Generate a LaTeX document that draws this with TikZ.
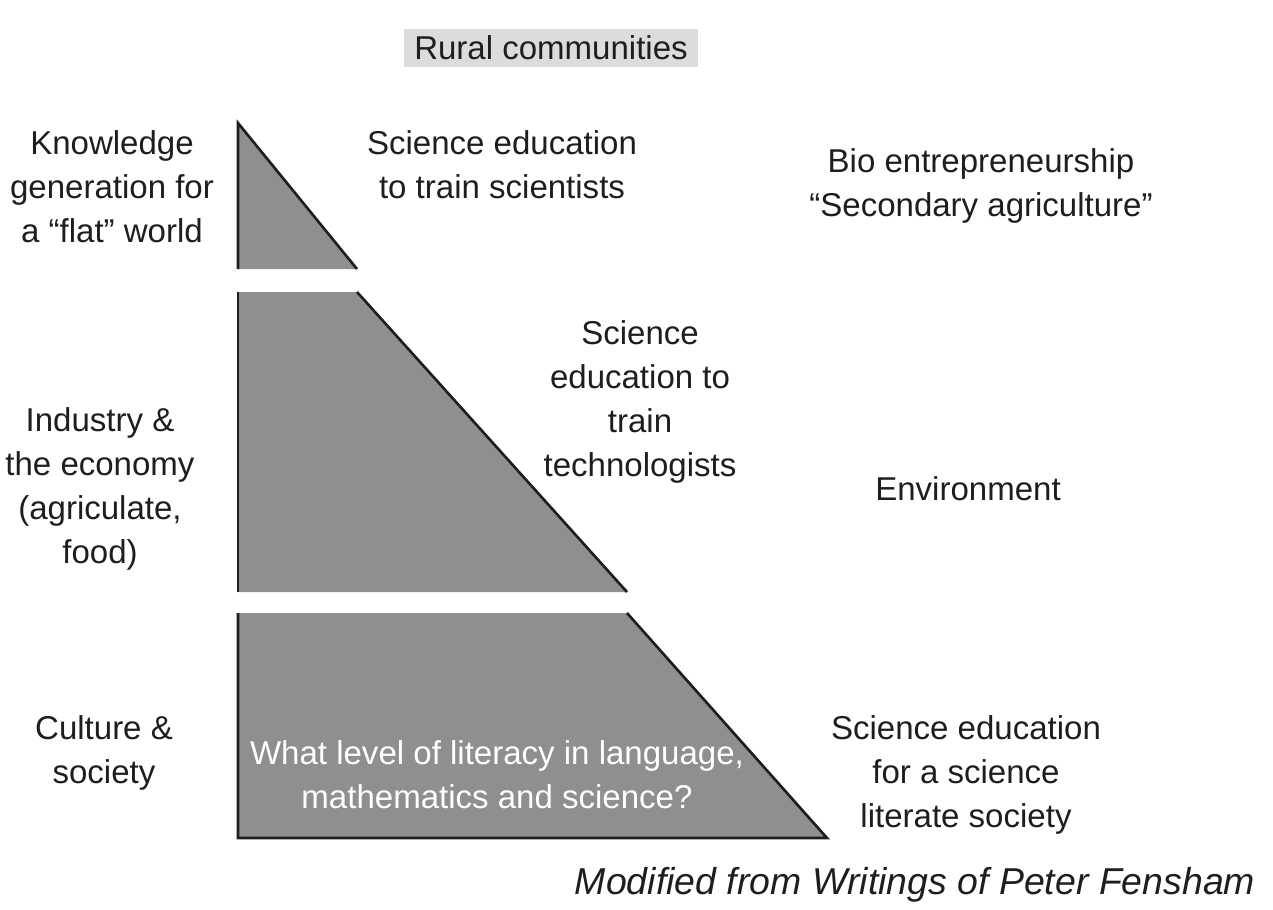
\documentclass[tikz,border=0pt]{standalone}
\usepackage{fontspec}
\setmainfont{Liberation Sans}
\usetikzlibrary{positioning}
\definecolor{piecegray}{RGB}{143,143,143}
\definecolor{boxgray}{RGB}{220,220,220}
\definecolor{inkgray}{RGB}{30,30,30}
\tikzset{
  labeltext/.style={align=center, text=inkgray, inner sep=0pt, font=\fontsize{18.8}{25}\selectfont},
  pieceedge/.style={draw=inkgray, line width=1.5pt}
}

\begin{document}
\begin{tikzpicture}[x=0.02cm, y=-0.02cm]
    \useasboundingbox (0,0) rectangle (1273,909);

    % the three pieces of the triangle
    \fill[piecegray] (238,123) -- (357,269) -- (238,269) -- cycle;
    \draw[pieceedge] (238,269) -- (238,123) -- (357,269);

    \fill[piecegray] (238,292) -- (357,292) -- (627,592) -- (238,592) -- cycle;
    \draw[pieceedge] (238,592) -- (238,292);
    \draw[pieceedge] (357,292) -- (627,592);

    \fill[piecegray] (238,613) -- (627,613) -- (827,838) -- (238,838) -- cycle;
    \draw[pieceedge] (238,613) -- (238,838) -- (827,838) -- (627,613);

    % labels
    \node[labeltext, fill=boxgray, minimum height=0.78cm, inner xsep=0.2cm] (rural) at (551,48) {Rural communities};

    \node[labeltext] (knowledge) at (112,187) {Knowledge\\generation for\\a “flat” world};
    \node[labeltext] (industry) at (100,489) {Industry \&\\the economy\\(agriculate,\\food)};
    \node[labeltext] (culture) at (104,753) {Culture \&\\society};

    \node[labeltext] (scientists) at (502,165) {Science education\\to train scientists};
    \node[labeltext] (technologists) at (640,402) {Science\\education to\\train\\technologists};
    \node[labeltext, text=white] (literacy) at (497,775) {What level of literacy in language,\\mathematics and science?};

    \node[labeltext] (bio) at (981,186) {Bio entrepreneurship\\“Secondary agriculture”};
    \node[labeltext] (environment) at (968,489) {Environment};
    \node[labeltext] (society) at (966,775) {Science education\\for a science\\literate society};

    \node[labeltext, font=\fontsize{21.3}{25}\selectfont\itshape] (source) at (915,885) {Modified from Writings of Peter Fensham};

\end{tikzpicture}
\end{document}
